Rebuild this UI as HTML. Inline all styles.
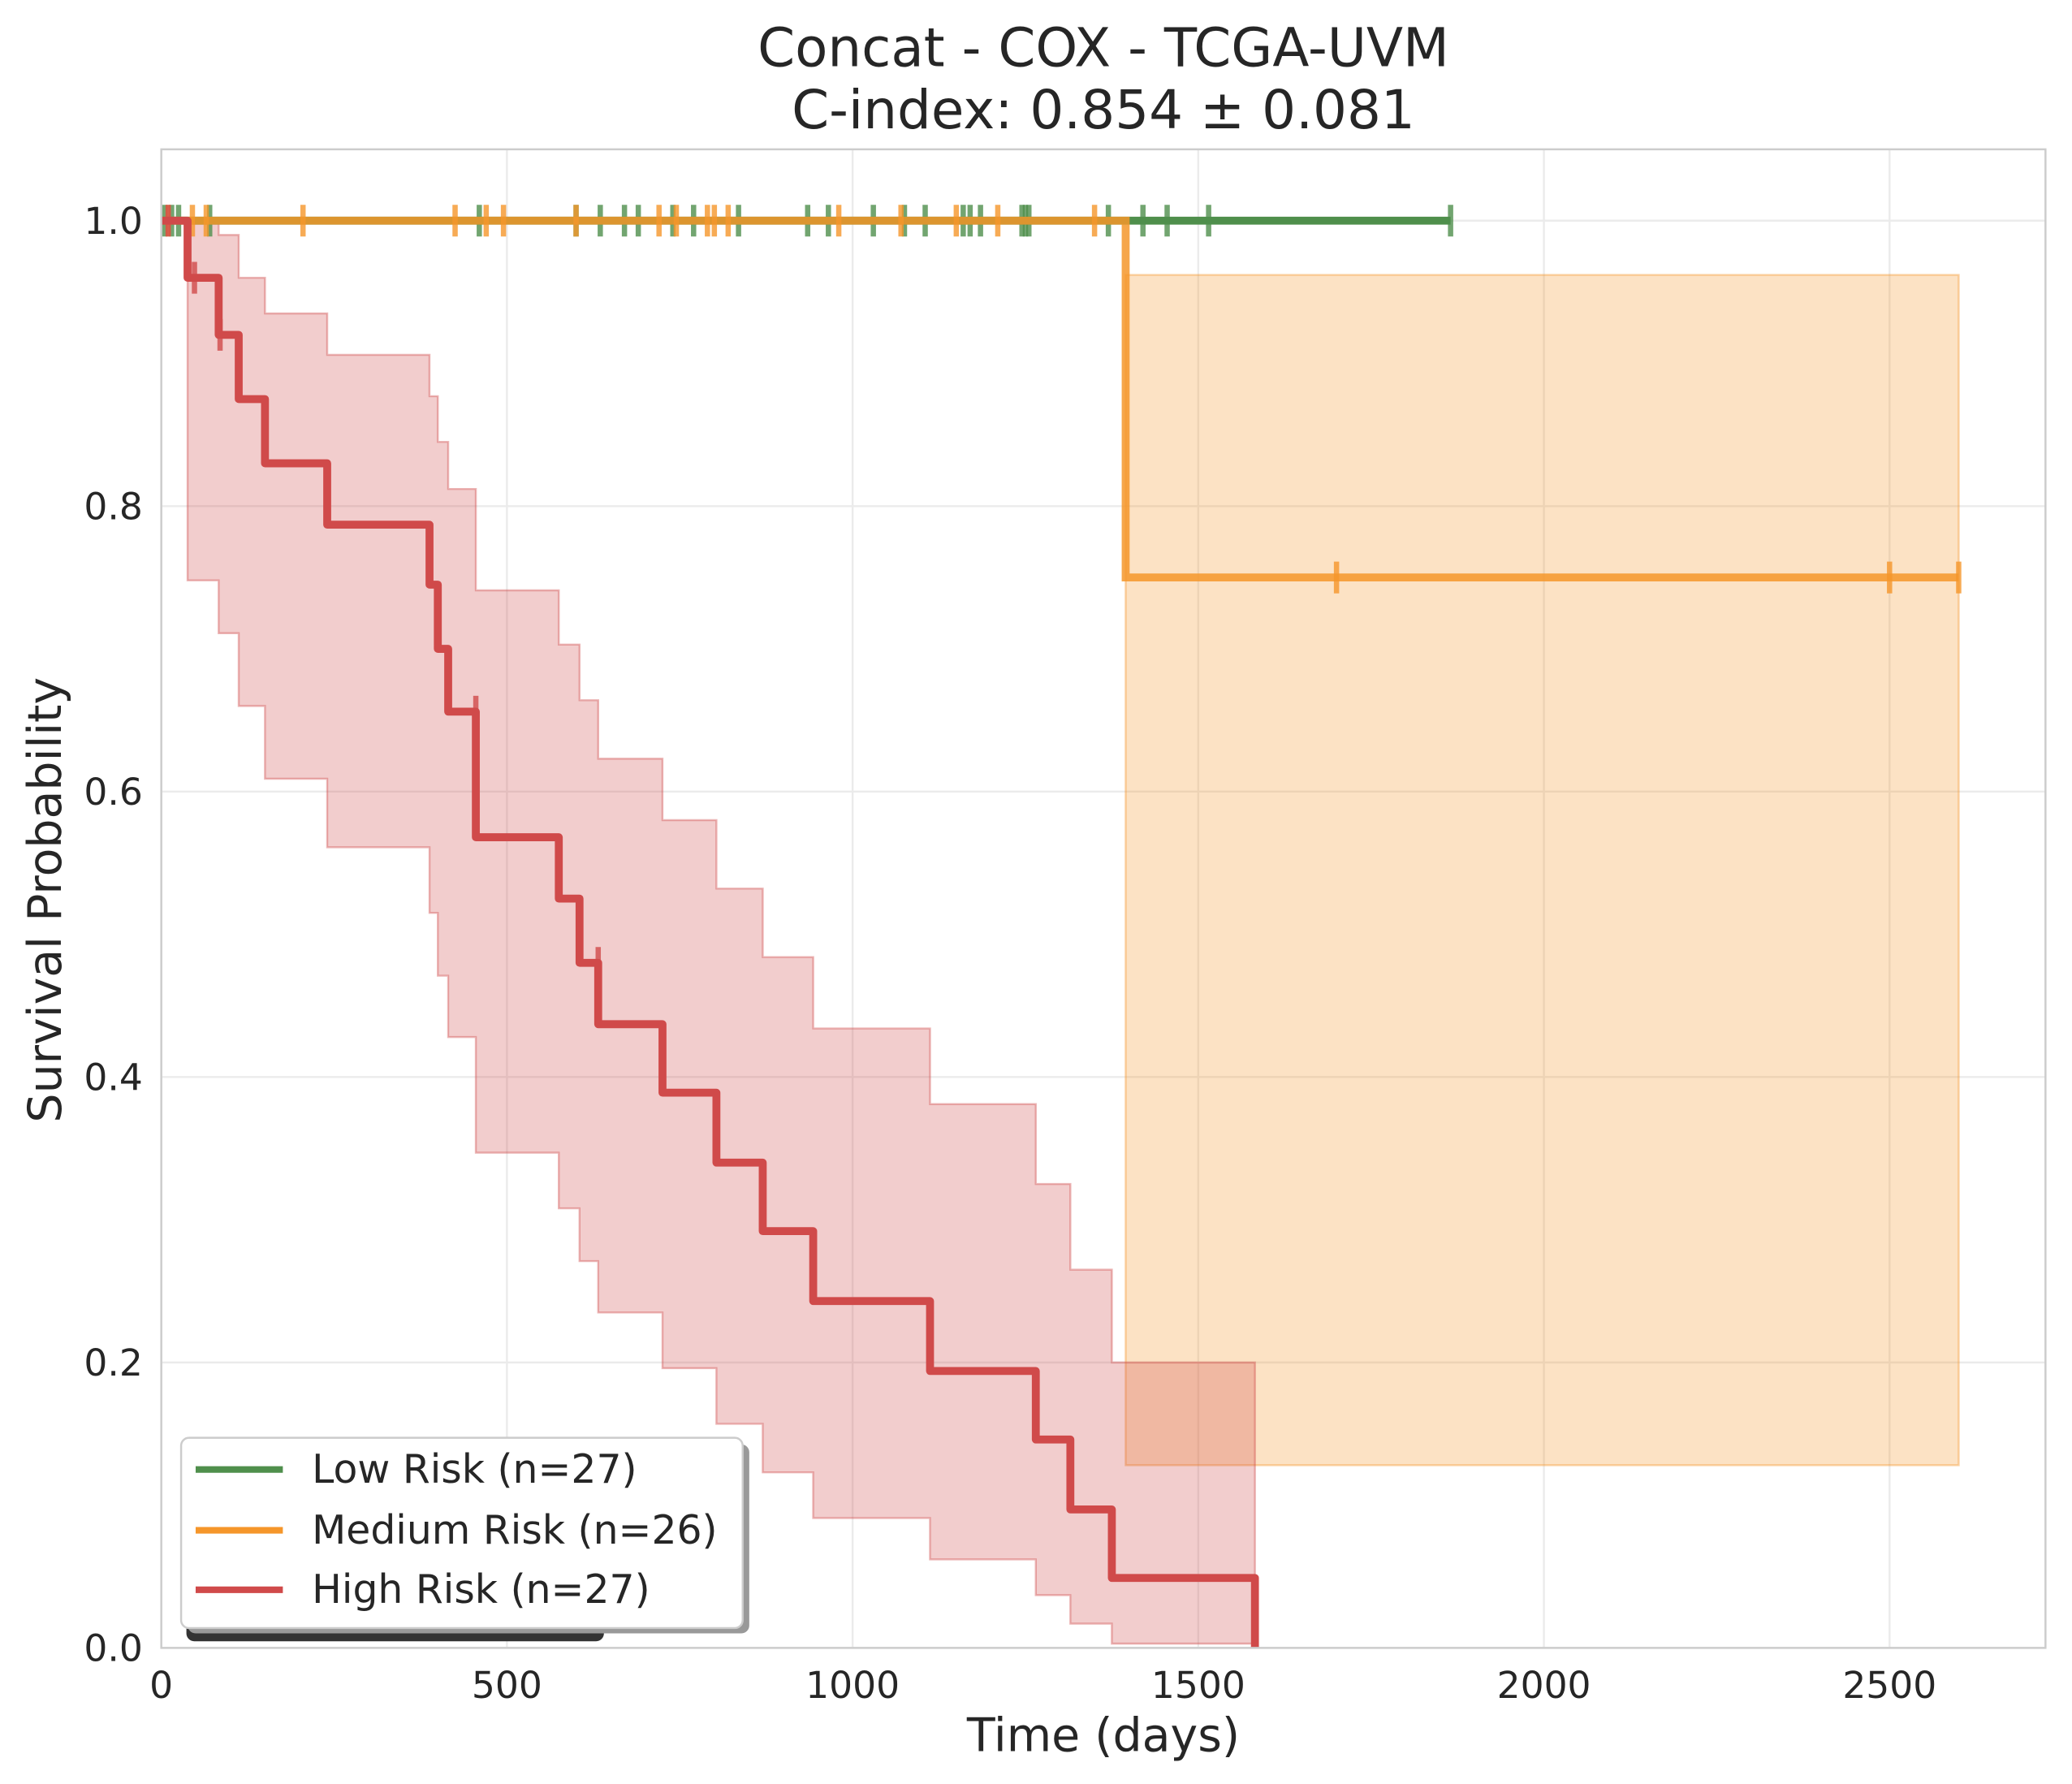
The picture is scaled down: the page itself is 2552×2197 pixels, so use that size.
<!DOCTYPE html>
<html><head><meta charset="utf-8"><style>
html,body{margin:0;padding:0;background:#fff}
svg{display:block}
text{font-family:"DejaVu Sans","Liberation Sans",sans-serif;fill:#262626}
</style></head><body>
<svg id="chart" width="2552" height="2197" viewBox="0 0 1568 1350" xmlns="http://www.w3.org/2000/svg">
<rect x="0" y="0" width="1568" height="1350" fill="#fff"/>
<g id="grid"></g>
<g id="bands"></g>
<g id="lines"></g>
<rect x="122" y="113" width="1426" height="1134" fill="none" stroke="#cccccc" stroke-width="1.5"/>
<g id="ticks"></g>
<text x="835" y="50" font-size="40.5" text-anchor="middle">Concat - COX - TCGA-UVM</text>
<text x="835" y="97" font-size="40.5" text-anchor="middle">C-index: 0.854 ± 0.081</text>
<text x="835" y="1325" font-size="35" text-anchor="middle">Time (days)</text>
<text x="46" y="681" font-size="35" text-anchor="middle" transform="rotate(-90 46 681)">Survival Probability</text>
<g>
<rect x="141" y="1098" width="316" height="144" rx="6" fill="#333"/>
<rect x="142" y="1093" width="425" height="143" rx="6" fill="#999"/>
<rect x="137" y="1088" width="425" height="144" rx="6" fill="#fff" stroke="#cccccc" stroke-width="1.5"/>
<line x1="148" y1="1112" x2="214" y2="1112" stroke="#4f8f4c" stroke-width="5"/>
<text x="236" y="1122" font-size="30">Low Risk (n=27)</text>
<line x1="148" y1="1158" x2="214" y2="1158" stroke="#f5962a" stroke-width="5"/>
<text x="236" y="1168" font-size="30">Medium Risk (n=26)</text>
<line x1="148" y1="1203" x2="214" y2="1203" stroke="#d04a4a" stroke-width="5"/>
<text x="236" y="1213" font-size="30">High Risk (n=27)</text>
</g>
</svg>
<script>
const xTicks=[0,500,1000,1500,2000,2500];
const yTicks=[0,0.2,0.4,0.6,0.8,1.0];
const highTimes=[0,38,83,112,150,240,388,400,415,455,575,605,632,725,803,870,943,1112,1265,1315,1375,1582];
const highSurv=[1,0.96,0.92,0.875,0.83,0.787,0.745,0.70,0.656,0.568,0.525,0.48,0.437,0.389,0.34,0.292,0.243,0.194,0.146,0.097,0.049,0];
const highUpper=[1,1,0.99,0.96,0.935,0.906,0.877,0.845,0.812,0.741,0.703,0.664,0.623,0.58,0.532,0.484,0.434,0.381,0.325,0.265,0.2,0.2];
const highLower=[1,0.748,0.711,0.66,0.609,0.561,0.515,0.471,0.428,0.347,0.308,0.271,0.235,0.196,0.157,0.123,0.091,0.062,0.037,0.017,0.003,0.003];
const highCensor=[10,48,85,455,632];
const medTimes=[0,1395,2600];
const medSurv=[1,0.75,0.75];
const medUpper=[1,0.962,0.962];
const medLower=[1,0.128,0.128];
const medCensor=[10,45,65,205,425,470,495,600,720,745,790,800,820,980,1070,1150,1210,1350,1700,2500,2600];
const lowEnd=1865;
const lowCensor=[5,15,25,70,460,600,635,670,690,740,770,835,935,965,1030,1075,1105,1160,1170,1185,1245,1250,1255,1370,1420,1455,1515,1865];
const NS="http://www.w3.org/2000/svg";
const X=t=>122+t*0.5232, Y=v=>1247-v*1080;
function el(tag,attrs,parent){const e=document.createElementNS(NS,tag);for(const k in attrs)e.setAttribute(k,attrs[k]);parent.appendChild(e);return e;}
const grid=document.getElementById('grid'),ticks=document.getElementById('ticks'),bands=document.getElementById('bands'),lines=document.getElementById('lines');
xTicks.forEach(t=>{
 const l=el('line',{x1:X(t),x2:X(t),y1:113,y2:1247,stroke:'#ebebeb','stroke-width':1.5},grid);
 
 
 const tx=el('text',{x:X(t),y:1285,'font-size':28,'text-anchor':'middle'},ticks);tx.textContent=t;
 
 
});
yTicks.forEach(v=>{
 const l=el('line',{x1:122,x2:1548,y1:Y(v),y2:Y(v),stroke:'#ebebeb','stroke-width':1.5},grid);
 
 
 const tx=el('text',{x:108,y:Y(v)+10,'font-size':28,'text-anchor':'end'},ticks);tx.textContent=v.toFixed(1);
 
 
});
function stepPath(times,vals){let d=`M${X(times[0])},${Y(vals[0])}`;for(let i=1;i<times.length;i++){d+=`H${X(times[i])}V${Y(vals[i])}`;}return d;}
function band(times,up,lo,color,name){
 const n=times.length;
 let d=`M${X(times[0])},${Y(up[0])}`;for(let i=1;i<n;i++)d+=`H${X(times[i])}V${Y(up[i])}`;
 d+=`V${Y(lo[n-1])}`;
 for(let i=n-2;i>=0;i--)d+=`V${Y(lo[i])}H${X(times[i])}`;
 d+='Z';
 const p=el('path',{d:d,fill:color,'fill-opacity':0.28,stroke:color,'stroke-opacity':0.4,'stroke-width':1.5},bands);
 
 
}
band(medTimes.slice(1),medUpper.slice(1),medLower.slice(1),'#f5962a','medium-ci-band');
band(highTimes,highUpper,highLower,'#d04a4a','high-ci-band');
function censorMarks(times,valFn,color,name){times.forEach(t=>{const y=Y(valFn(t));const c=el('line',{x1:X(t),x2:X(t),y1:y-12,y2:y+12,stroke:color,'stroke-width':4,'stroke-opacity':0.8},lines);
 
 });}
function valAt(times,vals,t){let v=vals[0];for(let i=0;i<times.length;i++)if(times[i]<=t)v=vals[i];return v;}
let p=el('path',{d:`M${X(0)},${Y(1)}H${X(lowEnd)}`,fill:'none',stroke:'#4f8f4c','stroke-width':6},lines);


censorMarks(lowCensor,()=>1,'#4f8f4c','low-censor-mark');
p=el('path',{d:stepPath(medTimes,medSurv),fill:'none',stroke:'#f5962a','stroke-width':6,'stroke-opacity':0.85},lines);


censorMarks(medCensor,t=>valAt(medTimes,medSurv,t),'#f5962a','medium-censor-mark');
p=el('path',{d:stepPath(highTimes,highSurv),fill:'none',stroke:'#d04a4a','stroke-width':6,'stroke-linejoin':'round'},lines);


censorMarks(highCensor,t=>valAt(highTimes,highSurv,t-0.5),'#d04a4a','high-censor-mark');
</script>
</body></html>
